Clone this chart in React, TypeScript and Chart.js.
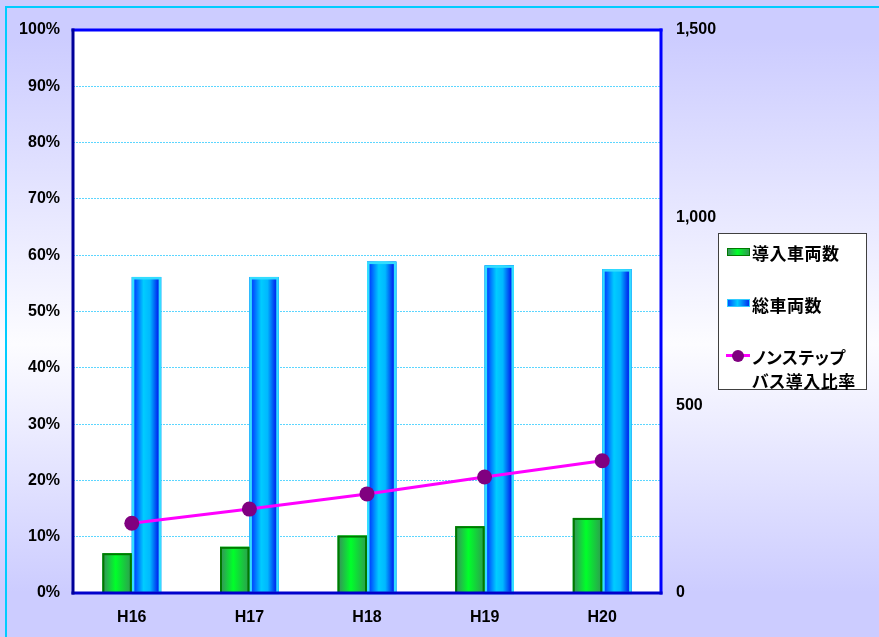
import React, { useEffect, useRef } from "react";
import { Chart, registerables } from "chart.js";

Chart.register(...registerables);

// ---- data ----
const categories = ["H16", "H17", "H18", "H19", "H20"];
const introducedBuses = [106, 123, 153, 178, 200]; // 導入車両数 (right axis)
const totalBuses = [842, 842, 883, 873, 863]; // 総車両数 (right axis)
const nonStepRatio = [12.4, 14.9, 17.6, 20.6, 23.5]; // ノンステップバス導入比率 (%)
const seriesLabels = ["導入車両数", "総車両数", "ノンステップバス導入比率"];
const legendLines = [["導入車両数"], ["総車両数"], ["ノンステップ", "バス導入比率"]];
const leftAxisMax = 100;
const leftAxisStep = 10;
const rightAxisMax = 1500;
const rightAxisStep = 500;

// ---- layout ----
const W = 879;
const H = 637;
const PLOT = { left: 73, right: 661, top: 30, bottom: 593 };
const TICK_FONT = { family: "'Liberation Sans', Arial, sans-serif", size: 16, weight: "bold" as const };

const barStyles: Record<number, { stops: [number, string][]; border: string; borderWidth: number }> = {
  0: {
    stops: [
      [0, "#3a8a5e"],
      [0.45, "#00ff2a"],
      [1, "#2e9a50"],
    ],
    border: "#007a00",
    borderWidth: 2,
  },
  1: {
    stops: [
      [0, "#0050ff"],
      [0.12, "#0050ff"],
      [0.4, "#00ccff"],
      [0.62, "#00b8ff"],
      [0.88, "#0030f0"],
      [1, "#0060ff"],
    ],
    border: "#33ddff",
    borderWidth: 2.5,
  },
};

const chartPlugin = {
  id: "customLook",
  beforeDraw(chart: any) {
    const { ctx, chartArea: a } = chart;
    ctx.save();
    ctx.fillStyle = "#ffffff";
    ctx.fillRect(a.left, a.top, a.right - a.left, a.bottom - a.top);
    ctx.restore();
  },
  afterDatasetDraw(chart: any, args: any) {
    const meta = args.meta;
    if (meta.type !== "bar") return;
    const style = barStyles[args.index];
    if (!style) return;
    const ctx = chart.ctx;
    ctx.save();
    meta.data.forEach((el: any) => {
      const { x, y, base, width } = el.getProps(["x", "y", "base", "width"], true);
      const l = x - width / 2;
      const g = ctx.createLinearGradient(l, 0, l + width, 0);
      style.stops.forEach(([o, c]) => g.addColorStop(o, c));
      ctx.fillStyle = g;
      ctx.fillRect(l, y, width, base - y);
      ctx.strokeStyle = style.border;
      ctx.lineWidth = style.borderWidth;
      const bw = style.borderWidth / 2;
      ctx.strokeRect(l + bw, y + bw, width - 2 * bw, base - y - bw);
    });
    ctx.restore();
  },
  afterDraw(chart: any) {
    const { ctx, chartArea: a } = chart;
    ctx.save();
    ctx.lineWidth = 3;
    ctx.lineCap = "square";
    const seg = (x1: number, y1: number, x2: number, y2: number, c: string) => {
      ctx.strokeStyle = c;
      ctx.beginPath();
      ctx.moveTo(x1, y1);
      ctx.lineTo(x2, y2);
      ctx.stroke();
    };
    seg(a.left, a.top, a.right, a.top, "#0000ff");
    seg(a.right, a.top, a.right, a.bottom, "#0000ff");
    seg(a.left, a.bottom, a.right, a.bottom, "#0000cc");
    seg(a.left, a.top, a.left, a.bottom, "#000099");
    ctx.restore();
  },
};

export default function App() {
  const ref = useRef<HTMLCanvasElement | null>(null);

  useEffect(() => {
    if (!ref.current) return;
    const chart = new Chart(ref.current, {
      type: "bar",
      data: {
        labels: categories,
        datasets: [
          {
            type: "bar",
            label: seriesLabels[0],
            data: introducedBuses,
            yAxisID: "y1",
            backgroundColor: "#00ff2a",
            borderWidth: 0,
            order: 1,
          },
          {
            type: "bar",
            label: seriesLabels[1],
            data: totalBuses,
            yAxisID: "y1",
            backgroundColor: "#00ccff",
            borderWidth: 0,
            order: 1,
          },
          {
            type: "line",
            label: seriesLabels[2],
            data: nonStepRatio,
            yAxisID: "y",
            borderColor: "#ff00ff",
            borderWidth: 3,
            pointRadius: 7.5,
            pointBackgroundColor: "#800080",
            pointBorderColor: "#800080",
            pointBorderWidth: 0,
            tension: 0,
            order: 0,
          } as any,
        ],
      },
      options: {
        responsive: false,
        animation: false,
        devicePixelRatio: 1,
        layout: { padding: { top: PLOT.top, left: 0, right: 0, bottom: 0 } },
        datasets: {
          bar: { categoryPercentage: 0.5, barPercentage: 1 },
        } as any,
        plugins: {
          legend: { display: false },
          tooltip: { enabled: false },
          title: { display: false },
        },
        scales: {
          x: {
            type: "category",
            offset: true,
            grid: { display: false, drawTicks: false },
            border: { display: false },
            ticks: { color: "#000", font: TICK_FONT, padding: 15, maxRotation: 0 },
            afterFit(s: any) {
              s.height = H - PLOT.bottom;
            },
          },
          y: {
            position: "left",
            min: 0,
            max: leftAxisMax,
            grid: {
              drawTicks: false,
              lineWidth: 1,
              color: (c: any) =>
                c.tick && (c.tick.value === 0 || c.tick.value === leftAxisMax) ? "rgba(0,0,0,0)" : "#5cd6ff",
            },
            border: { display: false, dash: [2, 1] },
            ticks: {
              stepSize: leftAxisStep,
              color: "#000",
              font: TICK_FONT,
              padding: 13,
              callback: (v: any) => `${v}%`,
            },
            afterFit(s: any) {
              s.width = PLOT.left;
            },
          },
          y1: {
            position: "right",
            min: 0,
            max: rightAxisMax,
            grid: { display: false, drawTicks: false },
            border: { display: false },
            ticks: {
              stepSize: rightAxisStep,
              color: "#000",
              font: TICK_FONT,
              padding: 15,
              callback: (v: any) => Number(v).toLocaleString("en-US"),
            },
            afterFit(s: any) {
              s.width = W - PLOT.right;
            },
          },
        },
      } as any,
      plugins: [chartPlugin],
    });
    return () => chart.destroy();
  }, []);

  const legendFont: React.CSSProperties = {
    position: "absolute",
    fontFamily: "'Noto Sans CJK JP', sans-serif",
    fontSize: 17,
    fontWeight: 600,
    fontFeatureSettings: "'palt'",
    letterSpacing: "0.5px",
    color: "#000",
    lineHeight: "24px",
    whiteSpace: "nowrap",
  };

  return (
    <div
      style={{
        position: "absolute",
        left: 0,
        top: 0,
        width: W,
        height: H,
        overflow: "hidden",
        background: "linear-gradient(to bottom, #ccccff 6%, #fcfcff 54%, #ccccff 93%)",
      }}
    >
      <div
        style={{
          position: "absolute",
          left: 5,
          top: 6,
          width: W + 50,
          height: H + 50,
          borderLeft: "2px solid #00ccff",
          borderTop: "2px solid #00ccff",
        }}
      />
      <canvas ref={ref} width={W} height={H} style={{ position: "absolute", left: 0, top: 0, width: W, height: H }} />
      {/* legend */}
      <div
        style={{
          position: "absolute",
          left: 718,
          top: 233,
          width: 147,
          height: 155,
          background: "#ffffff",
          border: "1px solid #404040",
        }}
      />
      <div
        style={{
          position: "absolute",
          left: 727,
          top: 248,
          width: 21,
          height: 6,
          border: "1px solid #007a00",
          background: "linear-gradient(to right, #3a9060, #00ff2a 45%, #2e9a50)",
        }}
      />
      <div
        style={{
          position: "absolute",
          left: 727,
          top: 299,
          width: 21,
          height: 6,
          border: "1px solid #33ccff",
          background: "linear-gradient(to right, #0050ff, #00ccff 45%, #0030f0)",
        }}
      />
      <div style={{ position: "absolute", left: 726, top: 354, width: 24, height: 3, background: "#ff00ff" }} />
      <div
        style={{
          position: "absolute",
          left: 732,
          top: 349.5,
          width: 12,
          height: 12,
          borderRadius: "50%",
          background: "#800080",
        }}
      />
      <div style={{ ...legendFont, left: 752, top: 241 }}>{legendLines[0][0]}</div>
      <div style={{ ...legendFont, left: 752, top: 293 }}>{legendLines[1][0]}</div>
      <div style={{ ...legendFont, left: 752, top: 345 }}>
        {legendLines[2].map((t, i) => (
          <div key={i}>{t}</div>
        ))}
      </div>
    </div>
  );
}
